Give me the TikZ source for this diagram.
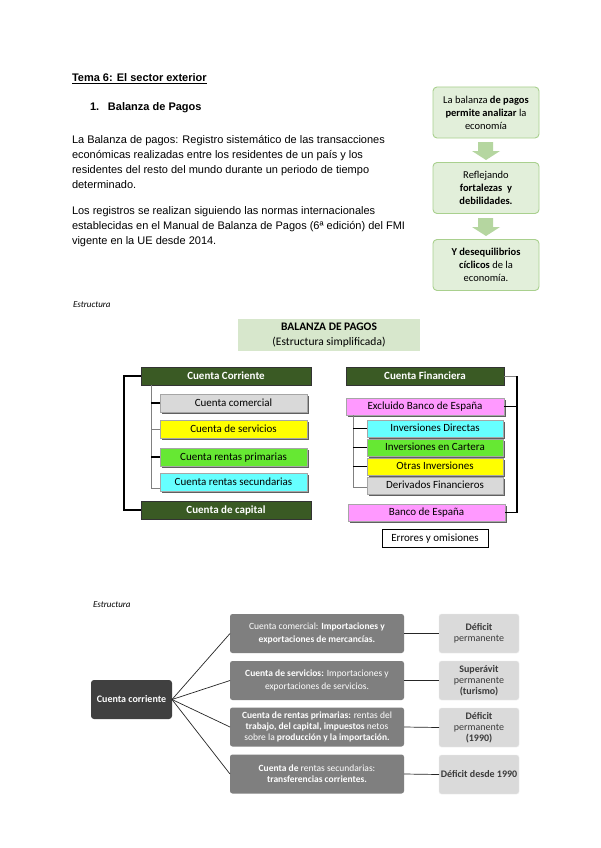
\documentclass[tikz,border=0pt]{standalone}
\usepackage{fontspec}
\setmainfont{Liberation Sans}
\newfontfamily\calfont{Carlito}
\usetikzlibrary{shadows,calc}
\definecolor{flowfill}{HTML}{E2EFDA}
\definecolor{flowline}{HTML}{A9D08E}
\definecolor{arrowfill}{HTML}{B5D6A0}
\definecolor{titlefill}{HTML}{D7E7CC}
\definecolor{dkgreen}{HTML}{3A5A24}
\definecolor{subgray}{HTML}{D9D9D9}
\definecolor{subyellow}{HTML}{FFFF00}
\definecolor{subgreen}{HTML}{66E833}
\definecolor{subcyan}{HTML}{66FFFF}
\definecolor{subpink}{HTML}{FF99FF}
\definecolor{ccgray}{HTML}{404040}
\definecolor{midgray}{HTML}{7F7F7F}
\definecolor{ltgray}{HTML}{DADADA}
\definecolor{txtgray}{HTML}{3A3A3A}
\begin{document}
\begin{tikzpicture}[x=1pt,y=-1pt,
  every node/.style={inner sep=0pt,outer sep=0pt},
  bodytext/.style={anchor=base west,font=\fontsize{11}{15}\selectfont},
  flowbox/.style={draw=flowline,fill=flowfill,rounded corners=4pt,line width=0.9pt,align=center,
     font=\calfont\fontsize{10.5}{13}\selectfont,minimum width=106pt,minimum height=51pt},
  darkbox/.style={draw=black!80,fill=dkgreen,text=white,line width=0.5pt,
     font=\calfont\bfseries\fontsize{11}{13}\selectfont,minimum height=18pt,
     text height=1.6ex,text depth=.35ex,
     drop shadow={shadow xshift=1.2pt,shadow yshift=-1.2pt,fill=gray!60,opacity=1}},
  subbox/.style={draw=gray!70,line width=0.4pt,font=\calfont\fontsize{11}{13}\selectfont,
     minimum height=18pt,text height=1.6ex,text depth=.35ex,
     drop shadow={shadow xshift=1.8pt,shadow yshift=-1.8pt,fill=gray!75!black,opacity=1}},
  branch/.style={line width=1.1pt,black},
  thinbranch/.style={line width=0.6pt,gray},
  gbox/.style={fill=midgray,rounded corners=2.5pt,text=white,align=center,
     font=\calfont\fontsize{9.5}{10.8}\selectfont,minimum width=174pt,minimum height=39pt},
  dbox/.style={fill=ltgray,draw=white!85!gray,rounded corners=2.5pt,text=txtgray,align=center,
     font=\calfont\fontsize{10}{11}\selectfont,minimum width=80pt,minimum height=39pt},
  link/.style={line width=0.7pt,black!85}]
\useasboundingbox (0,0) rectangle (600,848);
\fill[white] (0,0) rectangle (600,848);

% ---------- top text ----------
\node[bodytext,font=\bfseries\fontsize{11}{15}\selectfont] (t1) at (72,82) {\underline{Tema 6: El sector exterior}};
\node[bodytext,font=\bfseries\fontsize{11}{15}\selectfont] (t2) at (90,111) {\makebox[18pt][l]{1.}Balanza de Pagos};
\node[bodytext] (p1) at (72,143) {La Balanza de pagos: Registro sistemático de las transacciones};
\node[bodytext] (p2) at (72,158) {económicas realizadas entre los residentes de un país y los};
\node[bodytext] (p3) at (72,173) {residentes del resto del mundo durante un periodo de tiempo};
\node[bodytext] (p4) at (72,188) {determinado.};
\node[bodytext] (q1) at (72,214) {Los registros se realizan siguiendo las normas internacionales};
\node[bodytext] (q2) at (72,229) {establecidas en el Manual de Balanza de Pagos (6ª edición) del FMI};
\node[bodytext] (q3) at (72,244) {vigente en la UE desde 2014.};

% ---------- flow (top right) ----------
\node[flowbox] (f1) at (486,112.5) {La balanza \textbf{de pagos}\\\textbf{permite analizar} la\\economía};
\node[flowbox] (f2) at (486,188) {Reflejando\\\textbf{fortalezas\ \ y}\\\textbf{debilidades.}};
\node[flowbox] (f3) at (486,265) {\textbf{Y desequilibrios}\\\textbf{cíclicos} de la\\economía.};
\fill[arrowfill] (478,142) -- (493,142) -- (493,151) -- (500,151) -- (486,160) -- (472,151) -- (478,151) -- cycle;
\fill[arrowfill] (478,218) -- (493,218) -- (493,227) -- (500,227) -- (486,236) -- (472,227) -- (478,227) -- cycle;

% ---------- Estructura 1 ----------
\node[anchor=base west,font=\calfont\itshape\fontsize{9}{10}\selectfont] (e1) at (73,307) {Estructura};
\node[fill=titlefill,minimum width=182pt,minimum height=32pt,align=center,
      font=\calfont\fontsize{11.5}{14.5}\selectfont] (bp) at (329,335) {\textbf{BALANZA DE PAGOS}\\(Estructura simplificada)};

\node[darkbox,minimum width=170pt] (cc) at (226,376) {Cuenta Corriente};
\node[darkbox,minimum width=170pt] (cap) at (226,510) {Cuenta de capital};
\node[subbox,fill=subgray,minimum width=147pt] (com) at (233.5,403) {Cuenta comercial};
\node[subbox,fill=subyellow,minimum width=147pt] (ser) at (233.5,429.5) {Cuenta de servicios};
\node[subbox,fill=subgreen,minimum width=147pt] (pri) at (233.5,457) {Cuenta rentas primarias};
\node[subbox,fill=subcyan,minimum width=147pt] (sec) at (233.5,482) {Cuenta rentas secundarias};

\draw[branch] (cc.west) -- ++(-17,0) |- (cap.west);
\draw[thinbranch] ($(cc.south west)+(10,0)$) |- ($(sec.west)+(0,6)$);
\draw[branch] (com.west) -- ++(-9,0);
\draw[thinbranch] (ser.west) -- ++(-9,0);
\draw[branch] (pri.west) -- ++(-9,0);

\node[darkbox,minimum width=158pt] (cf) at (425,376) {Cuenta Financiera};
\node[subbox,fill=subpink,minimum width=158pt,minimum height=17pt] (exc) at (425,406.5) {Excluido Banco de España};
\node[subbox,fill=subcyan,minimum width=136pt,minimum height=16.5pt] (dir) at (435,428.5) {Inversiones Directas};
\node[subbox,fill=subgreen,minimum width=136pt,minimum height=16.5pt] (car) at (435,447.5) {Inversiones en Cartera};
\node[subbox,fill=subyellow,minimum width=136pt,minimum height=16.5pt] (otr) at (435,466.5) {Otras Inversiones};
\node[subbox,fill=subgray,minimum width=136pt,minimum height=16.5pt] (der) at (435,485.5) {Derivados Financieros};
\node[subbox,fill=subpink,minimum width=157pt,minimum height=17pt] (bde) at (426.5,512.5) {Banco de España};
\node[draw=black,line width=0.7pt,fill=white,minimum width=106pt,minimum height=18pt,
      font=\calfont\fontsize{11}{13}\selectfont,text height=1.6ex,text depth=.35ex] (err) at (435,538) {Errores y omisiones};

\draw[thinbranch] (cf.east) -- ++(13,0) coordinate (rb);
\draw[branch] (rb) |- (bde.east);
\draw[branch] (exc.east) -- (exc.east -| rb);
\draw[thinbranch] ($(exc.south west)+(7,0)$) |- ($(der.west)+(0,2)$);
\draw[branch] (dir.west) -- ++(-14,0);
\draw[branch] (car.west) -- ++(-14,0);
\draw[branch] (otr.west) -- ++(-14,0);

% ---------- Estructura 2 ----------
\node[anchor=base west,font=\calfont\itshape\fontsize{9}{10}\selectfont] (e2) at (93,607) {Estructura};
\node[fill=ccgray,rounded corners=3pt,text=white,minimum width=81pt,minimum height=39pt,
      font=\calfont\bfseries\fontsize{10}{12}\selectfont] (ccb) at (131.5,699.5) {Cuenta corriente};

\node[gbox,font=\calfont\fontsize{9.5}{12.5}\selectfont] (g1) at (317,633.5) {Cuenta comercial: \textbf{Importaciones y}\\\textbf{exportaciones de mercancías.}};
\node[gbox,font=\calfont\fontsize{9.5}{12.5}\selectfont] (g2) at (317,680.5) {\textbf{Cuenta de servicios:} Importaciones y\\exportaciones de servicios.};
\node[gbox] (g3) at (317,727) {\textbf{Cuenta de rentas primarias:} rentas del\\\textbf{trabajo, del capital, impuestos} netos\\sobre la \textbf{producción y la importación.}};
\node[gbox] (g4) at (317,774) {\textbf{Cuenta de} rentas secundarias:\\\textbf{transferencias corrientes.}};

\node[dbox] (d1) at (479,633.5) {\textbf{Déficit}\\permanente};
\node[dbox] (d2) at (479,680.5) {\textbf{Superávit}\\permanente\\\textbf{(turismo)}};
\node[dbox] (d3) at (479,727.5) {\textbf{Déficit}\\permanente\\\textbf{(1990)}};
\node[dbox] (d4) at (479,774.5) {\textbf{Déficit desde 1990}};

\foreach \i in {1,2,3,4} {
  \draw[link] (ccb.east) -- (g\i.west);
  \draw[link] (g\i.east) -- (d\i.west);
}
\end{tikzpicture}
\end{document}
